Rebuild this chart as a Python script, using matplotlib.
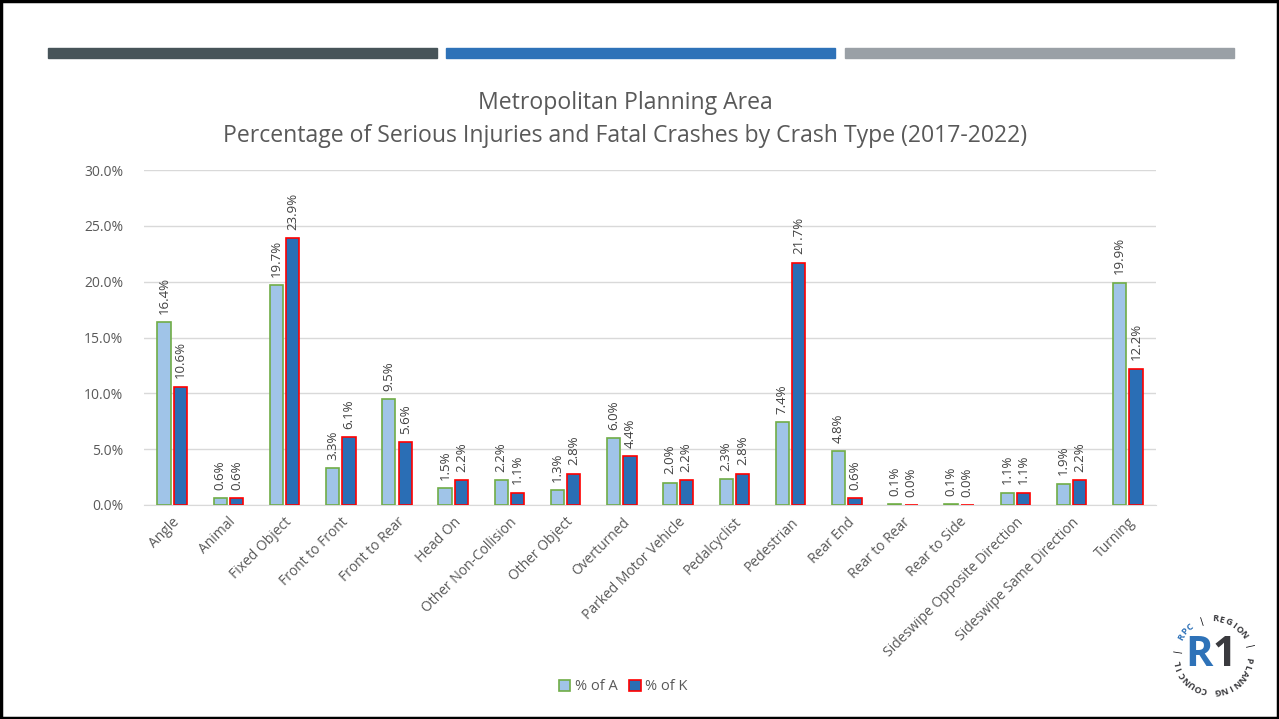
import numpy as np
import matplotlib.pyplot as plt
from matplotlib.patches import Rectangle

categories = ["Angle", "Animal", "Fixed Object", "Front to Front", "Front to Rear",
              "Head On", "Other Non-Collision", "Other Object", "Overturned",
              "Parked Motor Vehicle", "Pedalcyclist", "Pedestrian", "Rear End",
              "Rear to Rear", "Rear to Side", "Sideswipe Opposite Direction",
              "Sideswipe Same Direction", "Turning"]
pct_a = [16.4, 0.6, 19.7, 3.3, 9.5, 1.5, 2.2, 1.3, 6.0, 2.0, 2.3, 7.4, 4.8, 0.1, 0.1, 1.1, 1.9, 19.9]
pct_k = [10.6, 0.6, 23.9, 6.1, 5.6, 2.2, 1.1, 2.8, 4.4, 2.2, 2.8, 21.7, 0.6, 0.0, 0.0, 1.1, 2.2, 12.2]
yticks = [0, 5, 10, 15, 20, 25, 30]

FONT = "Open Sans"
plt.rcParams['font.family'] = [FONT, 'DejaVu Sans']
TXT = "#595959"

W, H = 1279, 719
fig = plt.figure(figsize=(W / 100, H / 100), dpi=100)

# cadre noir
fig.patches.append(Rectangle((0.001, 0.001), 0.998, 0.997, transform=fig.transFigure,
                             fill=False, edgecolor="black", linewidth=2.5))

# bandes décoratives en haut
for x0, x1, c in [(48, 437, "#475459"), (446, 835, "#2E72B8"), (845, 1234, "#9AA0A6")]:
    fig.patches.append(Rectangle((x0 / W, 1 - 58 / H), (x1 - x0) / W, 10 / H,
                                 transform=fig.transFigure, color=c))

ax = fig.add_axes([144 / W, 1 - 505 / H, 1012 / W, 335 / H])
x = np.arange(len(categories))
bw = 0.235
off = 0.145
ax.bar(x - off, pct_a, bw, color="#A0C4E8", edgecolor="#70AD47", linewidth=1.2,
       label="% of A", zorder=3)
ax.bar(x + off, pct_k, bw, color="#2A6EB5", edgecolor="#FF0000", linewidth=1.2,
       label="% of K", zorder=3)

for xi, a, k in zip(x, pct_a, pct_k):
    ax.annotate(f"{a:.1f}%", (xi - off, a), xytext=(0, 6), textcoords="offset points",
                rotation=90, ha="center", va="bottom", fontsize=9.5, color="#404040")
    ax.annotate(f"{k:.1f}%", (xi + off, k), xytext=(0, 6), textcoords="offset points",
                rotation=90, ha="center", va="bottom", fontsize=9.5, color="#404040")

ax.set_xlim(-0.5, len(categories) - 0.5)
ax.set_ylim(0, 30)
ax.set_yticks(yticks)
ax.set_yticklabels([f"{v:.1f}%" for v in yticks], fontsize=10, color=TXT)
ax.set_xticks(x)
ax.set_xticklabels(categories, rotation=45, ha="right", va="top",
                   rotation_mode="anchor", fontsize=10, color=TXT)
ax.tick_params(axis="both", length=0)
ax.tick_params(axis="y", pad=15)
ax.tick_params(axis="x", pad=7)
ax.grid(axis="y", color="#D9D9D9", linewidth=1, zorder=0)
for s in ["top", "right", "left"]:
    ax.spines[s].set_visible(False)
ax.spines["bottom"].set_color("#D9D9D9")

fig.text(625 / W, 1 - 103 / H, "Metropolitan Planning Area", ha="center", va="center",
         fontsize=16.6, color=TXT)
fig.text(625 / W, 1 - 136 / H,
         "Percentage of Serious Injuries and Fatal Crashes by Crash Type (2017-2022)",
         ha="center", va="center", fontsize=16.6, color=TXT)

leg = fig.legend(loc="center", bbox_to_anchor=(623 / W, 1 - 687 / H), ncol=2, frameon=False,
                 fontsize=10.5, handlelength=0.8, handleheight=0.8, handletextpad=0.3,
                 columnspacing=0.8)
for t in leg.get_texts():
    t.set_color(TXT)

# logo
r = 36
lax = fig.add_axes([(1213 - 50) / W, 1 - (655 + 50) / H, 100 / W, 100 / H])
lax.set_xlim(-50, 50)
lax.set_ylim(-50, 50)
lax.set_aspect("equal")
lax.axis("off")
lax.text(0, 0, "R", ha="right", va="center", fontsize=30, fontweight="bold", color="#2E72B8")
lax.text(0, 0, "1", ha="left", va="center", fontsize=30, fontweight="bold", color="#3A3A3E")
ring = "RPC | REGION | PLANNING COUNCIL | "
start = 150
for i, ch in enumerate(ring):
    ang = np.deg2rad(start - i * 360 / len(ring))
    col = "#2E72B8" if i < 3 else "#3A3A3E"
    lax.text(r * np.cos(ang), r * np.sin(ang), ch, ha="center", va="center",
             rotation=np.rad2deg(ang) - 90, fontsize=6.5, fontweight="bold", color=col)

fig.savefig("out.png", dpi=100)
